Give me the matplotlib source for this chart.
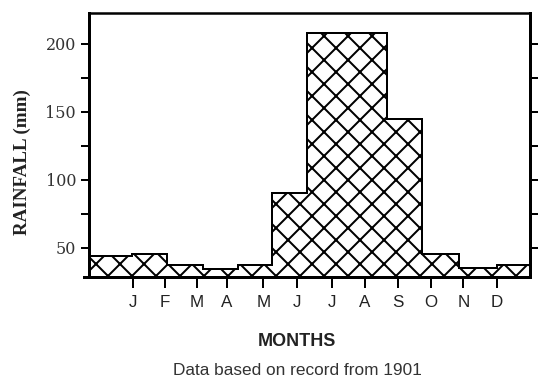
import matplotlib
matplotlib.use("Agg")
import matplotlib.pyplot as plt

# ---- data ----
months = ["J", "F", "M", "A", "M", "J", "J", "A", "S", "O", "N", "D"]
month_tick_pos = [1.34, 2.30, 3.26, 4.17, 5.28, 6.29, 7.35, 8.36, 9.35, 10.35, 11.34, 12.35]
bin_edges = [0.0, 1.30, 2.36, 3.45, 4.52, 5.54, 6.60, 9.02, 10.08, 11.22, 12.37, 13.36]
rainfall = [43.5, 45.0, 37.0, 34.0, 37.0, 90.0, 208.0, 144.5, 45.5, 35.0, 37.5]
y_ticks = [50, 75, 100, 125, 150, 175, 200]
y_tick_labels = ["50", "", "100", "", "150", "", "200"]

DPI = 72  # 1 pt == 1 px
plt.rcParams["hatch.linewidth"] = 2.0
fig = plt.figure(figsize=(538 / DPI, 377 / DPI), dpi=DPI)

left_px, right_px, top_px, bottom_px = 84, 530, 13.3, 277.3
ax = fig.add_axes([left_px / 538, 1 - bottom_px / 377,
                   (right_px - left_px) / 538, (bottom_px - top_px) / 377])

ax.stairs(rainfall, bin_edges, baseline=0, fill=True, hatch="x",
          facecolor="white", edgecolor="black", linewidth=2.0, zorder=2)

ax.set_xlim(-5 / 33, bin_edges[-1])
ax.set_ylim(28.2, 222.3)

for side in ["left", "right", "top", "bottom"]:
    ax.spines[side].set_linewidth(3.0)
    ax.spines[side].set_zorder(3)
ax.spines["top"].set_linewidth(2.5)
ax.spines["left"].set_position(("data", 0))
ax.spines["top"].set_bounds(0, bin_edges[-1])

ax.set_xticks(month_tick_pos)
ax.set_xticklabels(months, family="Liberation Sans", fontsize=17, color="#222222")
ax.tick_params(axis="x", direction="out", length=11, width=2.0, pad=6.6)

ax.set_yticks(y_ticks)
ax.set_yticklabels(y_tick_labels, family="DejaVu Serif", fontsize=16, color="#333333")
ax.tick_params(axis="y", direction="out", length=8, width=2.0, pad=5,
               right=True, labelright=False)

fig.text(22 / 538, 1 - 162.5 / 377, "RAINFALL (mm)", rotation=90, ha="center",
         va="center", family="Liberation Serif", fontweight="bold", fontsize=19,
         color="#222222")
fig.text(296.7 / 538, 1 - 342 / 377, "MONTHS", ha="center", va="center",
         family="Liberation Sans", fontweight="bold", fontsize=18, color="#222222")
fig.text(297 / 538, 1 - 375 / 377, "Data based on record from 1901", ha="center",
         va="baseline", family="Liberation Sans", fontsize=17.2, color="#333333")

fig.savefig("out.png", dpi=DPI)
